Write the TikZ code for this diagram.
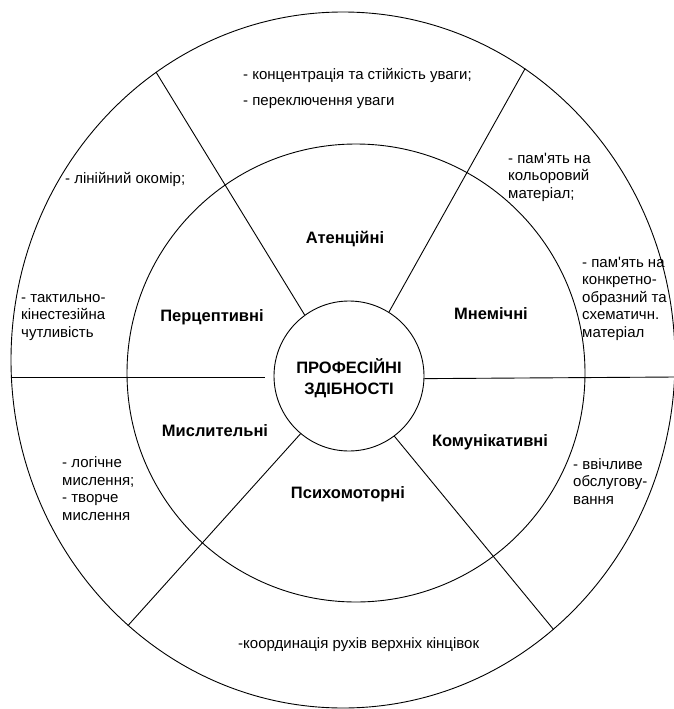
\documentclass[tikz,border=0pt]{standalone}
\usepackage{fontspec}
\setmainfont{Liberation Sans}
\usetikzlibrary{shapes.geometric,positioning}

\begin{document}
\begin{tikzpicture}[
  x=1pt, y=-1pt,
  ring/.style={draw, circle, line width=0.9pt, inner sep=0pt},
  sector/.style={anchor=base, inner sep=0pt,
    font=\fontsize{16.5}{20}\selectfont\bfseries},
  note/.style={anchor=base west, align=left, inner sep=0pt,
    font=\fontsize{15}{17.5}\selectfont},
  spoke/.style={line width=0.9pt}
]
\useasboundingbox (0,0) rectangle (674,709);
\clip (0,0) rectangle (674,709);
%% ─── Rings ─────────────────────────────────────────────────────────────────
\node[draw, ellipse, line width=0.9pt, minimum width=664pt,
      minimum height=696pt, inner sep=0pt] (rim) at (343,360) {};
\node[ring, minimum size=458pt] (mid) at (356,373) {};
\node[ring, minimum size=150pt] (core) at (349,376) {};
\node[align=center, inner sep=0pt,
      font=\fontsize{16.5}{20.5}\selectfont\bfseries] (title) at (349,378)
      {ПРОФЕСІЙНІ\\ЗДІБНОСТІ};
%% ─── Spokes ────────────────────────────────────────────────────────────────
\coordinate (gapL) at (265,377);
\draw[spoke] (core.126)   -- (rim.123.3);
\draw[spoke] (core.58.4)  -- (rim.58.1);
\draw[spoke] (core.230.6) -- (rim.231.7);
\draw[spoke] (core.307.2) -- (rim.308);
\draw[spoke] (rim.west |- gapL) -- (gapL);
\draw[spoke] (core.358.5) -- (rim.east |- gapL);
%% ─── Ability groups ────────────────────────────────────────────────────────
\node[sector] (attn)  at (345,243) {Атенційні};
\node[sector] (perc)  at (212,321) {Перцептивні};
\node[sector] (mnem)  at (491,319) {Мнемічні};
\node[sector] (think) at (215,436) {Мислительні};
\node[sector] (comm)  at (490,446) {Комунікативні};
\node[sector] (psych) at (348,498) {Психомоторні};
%% ─── Outer notes (anchored at the last line) ───────────────────────────────
\node[note] (attnNote)    at (243,105) {- концентрація та стійкість уваги;\\[8.2pt]- переключення уваги};
\node[note] (eyeNote)     at (65,183)  {- лінійний окомір;};
\node[note] (touchNote)   at (21,337)  {- тактильно-\\кінестезійна\\чутливість};
\node[note] (colourNote)  at (508,198) {- пам\textquotesingle ять на\\кольоровий\\матеріал;};
\node[note] (shapeNote)   at (582,337) {- пам\textquotesingle ять на\\конкретно-\\образний та\\схематичн.\\матеріал};
\node[note] (logicNote)   at (62,520)  {- логічне\\мислення;\\- творче\\мислення};
\node[note] (serviceNote) at (573,504) {- ввічливе\\обслугову-\\вання};
\node[note] (motorNote)   at (238,648) {-координація рухів верхніх кінцівок};
\end{tikzpicture}
\end{document}
